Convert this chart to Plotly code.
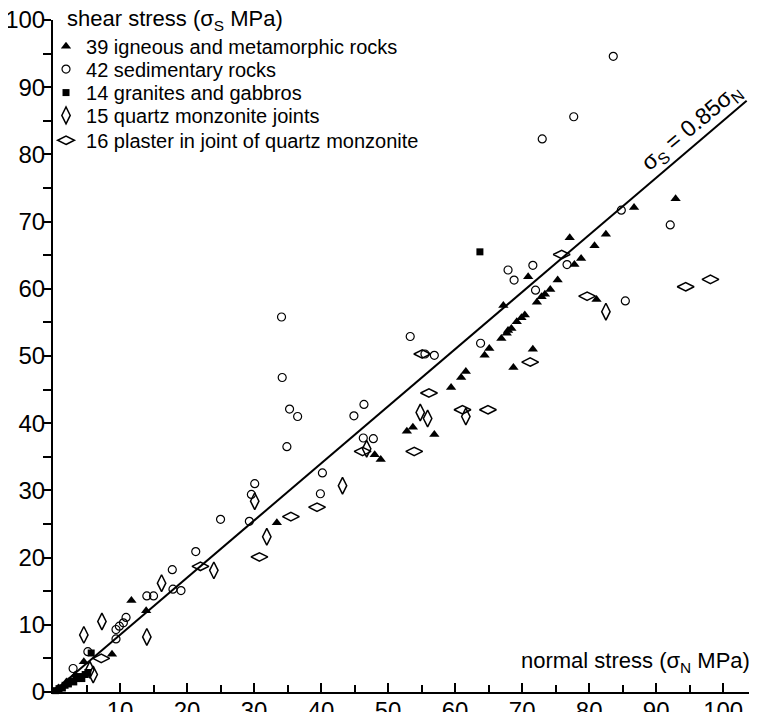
import plotly.graph_objects as go

# Shear vs normal stress for rock friction data

# 39 igneous and metamorphic rocks
igneous_x = [86.7, 92.9, 77.1, 82.5, 80.8, 77.8, 78.8, 70.9, 75.3, 74.2, 73.4, 72.9, 72.2,
             67.2, 70.4, 69.9, 69.2, 68.4, 67.9, 67.7, 66.9, 65.1, 64.4, 71.6, 68.7, 81.1,
             61.6, 60.9, 59.4, 52.8, 53.7, 56.9, 48.0, 48.9, 33.4, 11.7, 13.9, 8.8,
             4.6, 0.8, 2.0, 3.3]
igneous_y = [72.1, 73.4, 67.6, 68.1, 66.4, 63.6, 64.5, 61.8, 61.3, 59.9, 59.2, 58.8, 58.0,
             57.5, 56.1, 55.7, 55.1, 54.1, 53.8, 53.4, 52.6, 51.1, 50.1, 51.0, 48.3, 58.4,
             47.7, 46.8, 45.3, 38.8, 39.4, 38.3, 35.3, 34.6, 25.2, 13.6, 12.1, 5.6,
             4.5, 0.6, 1.5, 2.5]

# 42 sedimentary rocks
sediment_x = [83.6, 77.7, 73.0, 84.8, 92.1, 76.7, 71.6, 67.9, 68.8, 72.0, 63.8, 85.4,
              53.3, 55.5, 56.9, 46.4, 44.9, 34.1, 34.2, 35.3, 36.5, 34.9, 46.3, 47.8,
              40.2, 30.1, 29.6, 39.9, 29.3, 25.0, 21.3, 17.8, 17.9, 19.1, 14.0, 15.0,
              10.9, 10.5, 9.9, 9.4, 9.4, 5.2, 3.0]
sediment_y = [94.6, 85.6, 82.3, 71.7, 69.5, 63.6, 63.5, 62.8, 61.3, 59.8, 51.9, 58.2,
              52.9, 50.3, 50.1, 42.8, 41.1, 55.8, 46.8, 42.1, 41.0, 36.5, 37.8, 37.7,
              32.6, 31.0, 29.4, 29.5, 25.4, 25.7, 20.9, 18.2, 15.3, 15.1, 14.3, 14.3,
              11.1, 10.3, 9.8, 9.3, 7.9, 6.0, 3.5]

# 14 granites and gabbros
granite_x = [63.7, 5.7, 0.4, 0.9, 1.4, 1.8, 2.3, 2.7, 3.1, 3.5, 3.9, 4.3, 4.8, 5.2]
granite_y = [65.5, 5.8, 0.2, 0.5, 0.6, 1.0, 1.2, 1.6, 1.5, 2.0, 2.3, 2.0, 2.6, 2.9]

# 15 quartz monzonite joints
joint_x = [82.5, 54.8, 55.9, 61.6, 46.8, 43.2, 30.1, 31.9, 24.0, 16.2, 14.0, 7.3, 4.6, 5.5, 6.0]
joint_y = [56.6, 41.6, 40.7, 41.0, 36.2, 30.7, 28.4, 23.1, 18.1, 16.2, 8.2, 10.5, 8.5, 3.3, 2.6]

# 16 plaster in joint of quartz monzonite
plaster_x = [75.9, 71.2, 64.9, 79.7, 94.4, 98.1, 55.1, 56.1, 61.1, 46.2, 53.9, 39.4, 35.5,
             30.8, 22.0, 7.2]
plaster_y = [65.1, 49.1, 42.0, 58.9, 60.3, 61.4, 50.3, 44.5, 42.0, 35.8, 35.8, 27.5, 26.1,
             20.1, 18.7, 5.0]

# Fit line sigma_S = 0.85 sigma_N
fit_x = [0, 103.5]
fit_y = [0, 88.0]

font = "Liberation Sans, Arial, sans-serif"

fig = go.Figure()

fig.add_trace(go.Scatter(x=fit_x, y=fit_y, mode="lines", line=dict(color="black", width=2),
                         showlegend=False, hoverinfo="skip"))

series = [
    ("39 igneous and metamorphic rocks", igneous_x, igneous_y,
     dict(symbol="triangle-up", size=9, color="black", line=dict(width=0)), "legend"),
    ("42 sedimentary rocks", sediment_x, sediment_y,
     dict(symbol="circle-open", size=8, color="black", line=dict(width=1.2)), "legend2"),
    ("14 granites and gabbros", granite_x, granite_y,
     dict(symbol="square", size=7, color="black", line=dict(width=0)), "legend3"),
    ("15 quartz monzonite joints", joint_x, joint_y,
     dict(symbol="diamond-tall-open", size=12, color="black", line=dict(width=1.5)), "legend4"),
    ("16 plaster in joint of quartz monzonite", plaster_x, plaster_y,
     dict(symbol="diamond-wide-open", size=12, color="black", line=dict(width=1.5)), "legend5"),
]

for name, xs, ys, mk, lg in series:
    fig.add_trace(go.Scatter(x=xs, y=ys, mode="markers", name=name, marker=mk,
                             cliponaxis=False, legend=lg))

# one legend box per entry so the rows sit tight like the original
legend_rows = [0.961, 0.927, 0.892, 0.858, 0.821]
legends = {}
for i, yy in enumerate(legend_rows):
    key = "legend" if i == 0 else "legend%d" % (i + 1)
    legends[key] = dict(x=-0.010, y=yy, xanchor="left", yanchor="middle",
                        bgcolor="rgba(0,0,0,0)", font=dict(family=font, size=20, color="black"),
                        itemsizing="trace")

# page body has an 8px margin, so the figure is 8px smaller and margins shifted
fig.update_layout(
    width=749, height=704,
    margin=dict(l=45, r=5, t=12, b=20, autoexpand=False),
    paper_bgcolor="white", plot_bgcolor="white",
    font=dict(family=font, color="black"),
    **legends,
    xaxis=dict(range=[0, 104.3], showgrid=False, zeroline=False, automargin=False,
               showline=True, linecolor="black", linewidth=2,
               ticks="inside", ticklen=9, tickwidth=1.5, tickcolor="black",
               tickvals=[10, 20, 30, 40, 50, 60, 70, 80, 90, 100],
               minor=dict(tickvals=[5, 15, 25, 35, 45, 55, 65, 75, 85, 95],
                          ticks="inside", ticklen=7, tickwidth=1.5, tickcolor="black"),
               tickfont=dict(size=24), ticklabelstandoff=-4, ticklabeloverflow="allow"),
    yaxis=dict(range=[0, 100], showgrid=False, zeroline=False, automargin=False,
               showline=True, linecolor="black", linewidth=2,
               ticks="outside", ticklen=8, tickwidth=1.5, tickcolor="black",
               tickvals=[0, 10, 20, 30, 40, 50, 60, 70, 80, 90, 100],
               minor=dict(tickvals=[5, 15, 25, 35, 45, 55, 65, 75, 85, 95],
                          ticks="outside", ticklen=8, tickwidth=1.5, tickcolor="black"),
               tickfont=dict(size=24), ticklabelstandoff=-7, ticklabeloverflow="allow"),
    annotations=[
        dict(text="shear stress (σ<sub>S</sub> MPa)", xref="paper", yref="paper",
             x=0, y=1, xanchor="left", yanchor="middle", xshift=12, showarrow=False,
             font=dict(size=22)),
        dict(text="normal stress (σ<sub>N</sub> MPa)", xref="paper", yref="paper",
             x=1, y=0, xanchor="right", yanchor="bottom", yshift=14, showarrow=False,
             font=dict(size=22)),
        dict(text="σ<sub>S</sub> = 0.85σ<sub>N</sub>", x=95.3, y=84.0, xref="x", yref="y",
             textangle=-40, showarrow=False, font=dict(size=23)),
    ],
)

fig.write_html("out.html")
